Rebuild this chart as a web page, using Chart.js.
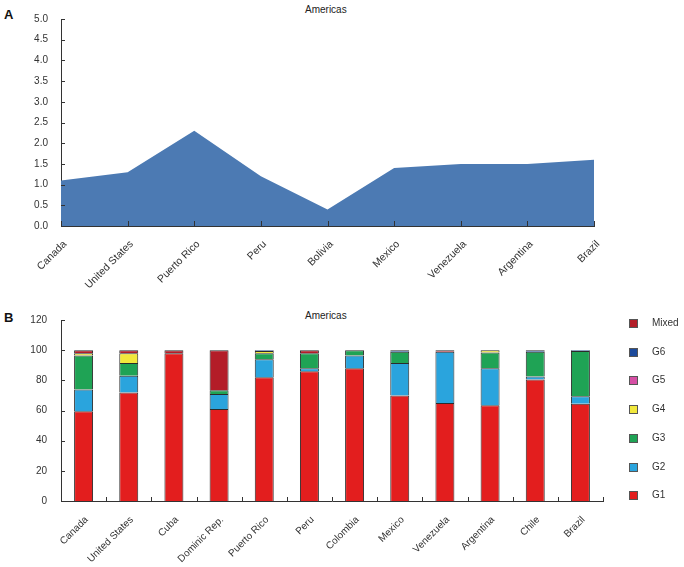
<!DOCTYPE html>
<html>
<head>
<meta charset="utf-8">
<script src="https://cdn.jsdelivr.net/npm/chart.js@4/dist/chart.umd.min.js"></script>
<style>
  body { margin: 0; background: #fff; font-family: "Liberation Sans", Arial, sans-serif; color: #333; }
  #wrap { position: relative; width: 684px; height: 567px; }
  canvas { position: absolute; left: 0; }
  .panel { position: absolute; font-weight: bold; font-size: 13px; color: #111; }
  .title { position: absolute; font-size: 10px; color: #222; }
  .leg { position: absolute; left: 629px; font-size: 10px; color: #333; height: 12px; line-height: 12px; }
  .leg i { position: absolute; left: 0; top: 2px; width: 7px; height: 7px; border: 1px solid #555; }
  .leg span { position: absolute; left: 23px; top: 0; white-space: nowrap; }
</style>
</head>
<body>
<div id="wrap">
  <div class="panel" style="left:4px;top:7px">A</div>
  <div class="title" style="left:305px;top:4px">Americas</div>
  <canvas id="areaChart" width="684" height="290" style="top:0"></canvas>

  <div class="panel" style="left:4px;top:310px">B</div>
  <div class="title" style="left:305px;top:310px">Americas</div>
  <canvas id="barChart" width="684" height="267" style="top:300px"></canvas>
  <div id="legend"></div>
</div>
<script>
// Panel A
const countriesA = ['Canada', 'United States', 'Puerto Rico', 'Peru', 'Bolivia', 'Mexico', 'Venezuela', 'Argentina', 'Brazil'];
const valuesA = [1.1, 1.3, 2.3, 1.2, 0.4, 1.4, 1.5, 1.5, 1.6];

// Panel B
const countriesB = ['Canada', 'United States', 'Cuba', 'Dominic Rep.', 'Puerto Rico', 'Peru', 'Colombia', 'Mexico', 'Venezuela', 'Argentina', 'Chile', 'Brazil'];
const g1 = [59.5, 72, 98, 61, 82, 86, 88, 70, 65, 63.5, 80.5, 64.5];
const g2 = [14.5, 11, 0, 10, 12, 2, 8.5, 21.5, 34, 24.5, 2, 5];
const g3 = [22.5, 8.5, 0, 2.5, 4, 10, 3.5, 7.5, 0, 10.5, 16.5, 30];
const g4 = [1.5, 6.5, 0, 0, 1.5, 0, 0, 0, 0, 1.5, 0, 0];
const g5 = [0, 0, 0, 0, 0, 0, 0, 0, 0, 0, 0, 0];
const g6 = [0, 0, 0, 0, 0.5, 0, 0, 1, 0, 0, 1, 0.5];
const mixed = [2, 2, 2, 26.5, 0, 2, 0, 0, 1, 0, 0, 0];

const seriesNames = ['G1', 'G2', 'G3', 'G4', 'G5', 'G6', 'Mixed'];
const seriesColors = ['#e31e1e', '#2aa4dd', '#1fa355', '#f1e83c', '#d64fa5', '#1c4a9b', '#b31d28'];

Chart.defaults.font.family = '"Liberation Sans", Arial, sans-serif';
Chart.defaults.font.size = 10;
Chart.defaults.color = '#333';

// small tick marks pointing into the plot
const innerTicks = {
  id: 'innerTicks',
  afterDraw(chart, args, opts) {
    const { ctx, chartArea: a, scales: { x, y } } = chart;
    ctx.save();
    ctx.strokeStyle = '#333';
    ctx.lineWidth = 1;
    ctx.beginPath();
    y.ticks.forEach((t, i) => {
      const py = Math.round(y.getPixelForTick(i)) + 0.5;
      ctx.moveTo(a.left, py);
      ctx.lineTo(a.left + 4, py);
    });
    const n = x.ticks.length;
    if (opts.between) {
      for (let i = 1; i <= n; i++) {
        const px = Math.round(a.left + i * (a.right - a.left) / n) + 0.5;
        ctx.moveTo(px, a.bottom);
        ctx.lineTo(px, a.bottom - 4);
      }
    } else {
      for (let i = 0; i < n; i++) {
        const px = Math.round(x.getPixelForTick(i)) + 0.5;
        ctx.moveTo(px, a.bottom);
        ctx.lineTo(px, a.bottom - 5);
      }
    }
    ctx.stroke();
    ctx.restore();
  }
};

new Chart(document.getElementById('areaChart'), {
  type: 'line',
  data: {
    labels: countriesA,
    datasets: [{
      data: valuesA,
      fill: 'origin',
      backgroundColor: '#4c7ab3',
      borderWidth: 0,
      pointRadius: 0,
      tension: 0
    }]
  },
  options: {
    responsive: false,
    animation: false,
    layout: { padding: { top: 10, right: 90, left: 0, bottom: 0 } },
    plugins: { legend: { display: false }, tooltip: { enabled: false }, innerTicks: { between: false } },
    scales: {
      x: {
        offset: false,
        grid: { display: false, drawTicks: false },
        border: { color: '#333' },
        ticks: { minRotation: 45, maxRotation: 45, padding: 12, labelOffset: 4, color: '#333', font: { size: 10.5 } },
        afterFit: s => { s.height = 64; }
      },
      y: {
        min: 0, max: 5,
        grid: { display: false, drawTicks: false },
        border: { color: '#333' },
        ticks: { stepSize: 0.5, padding: 13, color: '#333', callback: v => v.toFixed(1) },
        afterFit: s => { s.width = 61; }
      }
    }
  },
  plugins: [innerTicks]
});

const stackData = [g1, g2, g3, g4, g5, g6, mixed];

new Chart(document.getElementById('barChart'), {
  type: 'bar',
  data: {
    labels: countriesB,
    datasets: stackData.map((d, i) => ({
      label: seriesNames[i],
      // empty segments left out so they draw no border line
      data: d.map(v => v || null),
      backgroundColor: seriesColors[i],
      borderColor: '#2b2b2b',
      borderWidth: 1,
      borderSkipped: 'bottom',
      categoryPercentage: 1,
      barPercentage: 0.42
    }))
  },
  options: {
    responsive: false,
    animation: false,
    layout: { padding: { top: 15, right: 81, left: 0, bottom: 0 } },
    plugins: { legend: { display: false }, tooltip: { enabled: false }, innerTicks: { between: true } },
    scales: {
      x: {
        stacked: true,
        grid: { display: false, drawTicks: false },
        border: { color: '#333' },
        ticks: { minRotation: 45, maxRotation: 45, padding: 13, labelOffset: 3, color: '#333' },
        afterFit: s => { s.height = 66; }
      },
      y: {
        stacked: true,
        min: 0, max: 120,
        grid: { display: false, drawTicks: false },
        border: { color: '#333' },
        ticks: { stepSize: 20, padding: 14, color: '#333' },
        afterFit: s => { s.width = 61; }
      }
    }
  },
  plugins: [innerTicks]
});

// legend, top to bottom: Mixed ... G1
const legend = document.getElementById('legend');
const legendTop = 317;
const legendStep = 28.7;
seriesNames.slice().reverse().forEach((name, k) => {
  const color = seriesColors[seriesNames.indexOf(name)];
  const item = document.createElement('div');
  item.className = 'leg';
  item.style.top = (legendTop + k * legendStep) + 'px';
  item.innerHTML = `<i style="background:${color}"></i><span>${name}</span>`;
  legend.appendChild(item);
});
</script>
</body>
</html>
